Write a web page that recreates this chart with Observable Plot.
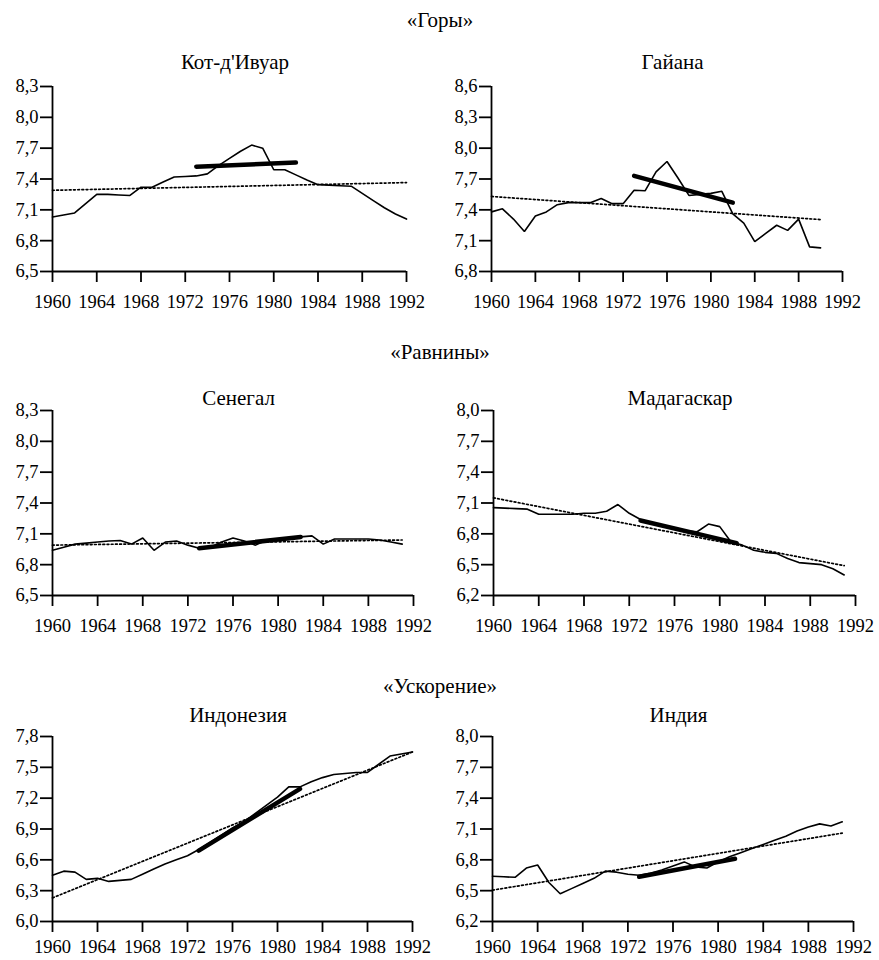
<!DOCTYPE html>
<html><head><meta charset="utf-8">
<script src="https://cdn.jsdelivr.net/npm/d3@7"></script>
<script src="https://cdn.jsdelivr.net/npm/@observablehq/plot@0.6"></script>
<style>
body{margin:0;background:#fff;font-family:"Liberation Serif","Times New Roman",serif;}
#root{position:relative;width:879px;height:960px;overflow:hidden;}
.lbl{position:absolute;font-size:21px;color:#000;white-space:nowrap;transform:translate(-50%,-50%);line-height:1;font-family:"Liberation Serif","Times New Roman",serif;}
.panel{position:absolute;}
.panel text{font-family:"Liberation Serif","Times New Roman",serif;}
</style></head><body><div id="root"></div>
<script>
// ---- data ----
const sections = ["«Горы»", "«Равнины»", "«Ускорение»"];
const countries = ["Кот-д'Ивуар", "Гайана", "Сенегал", "Мадагаскар", "Индонезия", "Индия"];
const xTicks = [1960, 1964, 1968, 1972, 1976, 1980, 1984, 1988, 1992];

const years = [1960,1961,1962,1963,1964,1965,1966,1967,1968,1969,1970,1971,1972,1973,1974,1975,1976,1977,1978,1979,1980,1981,1982,1983,1984,1985,1986,1987,1988,1989,1990,1991,1992];

const civValues = [7.03,7.05,7.07,7.16,7.25,7.25,7.245,7.24,7.32,7.32,7.37,7.42,7.425,7.43,7.45,7.53,7.60,7.67,7.73,7.70,7.49,7.49,7.44,7.39,7.345,7.34,7.335,7.33,7.26,7.19,7.12,7.06,7.01];
const guyValues = [7.38,7.41,7.31,7.19,7.34,7.38,7.45,7.47,7.47,7.47,7.51,7.46,7.46,7.59,7.585,7.77,7.87,7.71,7.54,7.55,7.56,7.58,7.36,7.27,7.09,7.17,7.25,7.20,7.31,7.04,7.03];
const senValues = [6.94,6.97,7.00,7.01,7.02,7.03,7.035,7.00,7.06,6.94,7.02,7.03,6.99,6.96,6.97,7.02,7.06,7.03,6.99,7.04,7.05,7.06,7.07,7.08,7.00,7.05,7.05,7.05,7.05,7.04,7.02,7.00];
const madValues = [7.055,7.05,7.045,7.04,6.99,6.99,6.99,6.99,7.00,7.00,7.02,7.085,7.00,6.94,6.91,6.88,6.86,6.83,6.82,6.895,6.87,6.72,6.69,6.64,6.62,6.61,6.56,6.52,6.51,6.50,6.46,6.40];
const indoValues = [6.45,6.49,6.48,6.41,6.42,6.39,6.40,6.41,6.46,6.51,6.56,6.60,6.64,6.70,6.77,6.84,6.91,6.97,7.05,7.13,7.21,7.31,7.31,7.36,7.40,7.43,7.44,7.45,7.45,7.53,7.61,7.63,7.65];
const indiaValues = [6.64,6.635,6.63,6.72,6.75,6.58,6.47,6.52,6.57,6.62,6.69,6.68,6.66,6.65,6.67,6.70,6.74,6.78,6.73,6.72,6.78,6.83,6.87,6.91,6.95,6.99,7.03,7.08,7.12,7.15,7.13,7.17];

// trend lines (dotted), whole period
const civTrend = [7.29, 7.365];   const civTrendYears = [1960, 1992];
const guyTrend = [7.53, 7.305];   const guyTrendYears = [1960, 1990];
const senTrend = [6.99, 7.04];    const senTrendYears = [1960, 1991];
const madTrend = [7.15, 6.49];    const madTrendYears = [1960, 1991];
const indoTrend = [6.23, 7.65];   const indoTrendYears = [1960, 1992];
const indiaTrend = [6.505, 7.06]; const indiaTrendYears = [1960, 1991];

// bold lines, 1973-1982 sub-period
const civBold = [7.52, 7.56];     const civBoldYears = [1973, 1982];
const guyBold = [7.73, 7.47];     const guyBoldYears = [1973, 1982];
const senBold = [6.96, 7.07];     const senBoldYears = [1973, 1982];
const madBold = [6.93, 6.71];     const madBoldYears = [1973, 1981.5];
const indoBold = [6.69, 7.29];    const indoBoldYears = [1973, 1982];
const indiaBold = [6.635, 6.81];  const indiaBoldYears = [1973, 1981.5];

const civTicks = [6.5,6.8,7.1,7.4,7.7,8.0,8.3];
const guyTicks = [6.8,7.1,7.4,7.7,8.0,8.3,8.6];
const senTicks = [6.5,6.8,7.1,7.4,7.7,8.0,8.3];
const madTicks = [6.2,6.5,6.8,7.1,7.4,7.7,8.0];
const indoTicks = [6.0,6.3,6.6,6.9,7.2,7.5,7.8];
const indiaTicks = [6.2,6.5,6.8,7.1,7.4,7.7,8.0];

// ---- layout ----
const FONT = "'Liberation Serif','Times New Roman',serif";
const root = document.getElementById("root");
function label(text, x, y) {
  const d = document.createElement("div");
  d.className = "lbl"; d.textContent = text;
  d.style.left = x + "px"; d.style.top = y + "px";
  root.appendChild(d);
}
label(sections[0], 440, 20);
label(sections[1], 440, 352);
label(sections[2], 440, 686);

const zip = (xs, ys) => xs.map((x, i) => ({x, y: ys[i]}));
const panels = [
  {title: countries[0], values: civValues, trendY: civTrendYears, trend: civTrend, boldY: civBoldYears, bold: civBold, ticks: civTicks, col: 0, l: 52, r: 406, t: 86, b: 271, ty: 62, pad: 12},
  {title: countries[1], values: guyValues, trendY: guyTrendYears, trend: guyTrend, boldY: guyBoldYears, bold: guyBold, ticks: guyTicks, col: 1, l: 491, r: 842, t: 86, b: 271, ty: 62, pad: 12},
  {title: countries[2], values: senValues, trendY: senTrendYears, trend: senTrend, boldY: senBoldYears, bold: senBold, ticks: senTicks, col: 0, l: 52, r: 413, t: 410, b: 595, ty: 398, pad: 12},
  {title: countries[3], values: madValues, trendY: madTrendYears, trend: madTrend, boldY: madBoldYears, bold: madBold, ticks: madTicks, col: 1, l: 493, r: 855, t: 410, b: 595, ty: 398, pad: 12},
  {title: countries[4], values: indoValues, trendY: indoTrendYears, trend: indoTrend, boldY: indoBoldYears, bold: indoBold, ticks: indoTicks, col: 0, l: 52, r: 412, t: 736, b: 921, ty: 715, pad: 7},
  {title: countries[5], values: indiaValues, trendY: indiaTrendYears, trend: indiaTrend, boldY: indiaBoldYears, bold: indiaBold, ticks: indiaTicks, col: 1, l: 492, r: 853, t: 736, b: 921, ty: 715, pad: 7}
];
const fmt = d => d.toFixed(1).replace(".", ",");

for (const p of panels) {
  const svgLeft = p.col * 440;
  const mt = 10, mb = 38, mr = 26;
  const ymin = p.ticks[0], ymax = p.ticks[p.ticks.length - 1];
  const series = zip(years.slice(0, p.values.length), p.values);
  const chart = Plot.plot({
    width: p.r - svgLeft + mr,
    height: mt + (p.b - p.t) + mb,
    marginLeft: p.l - svgLeft, marginRight: mr, marginTop: mt, marginBottom: mb,
    style: {fontFamily: FONT, fontSize: "18.5px", color: "#000", background: "transparent", overflow: "visible"},
    x: {domain: [1960, 1992]},
    y: {domain: [ymin, ymax]},
    marks: [
      Plot.axisX({ticks: xTicks, tickSize: 11, tickPadding: p.pad, tickFormat: d => String(d), label: null, strokeWidth: 1.8, fontSize: 18.5, fontFamily: FONT}),
      Plot.axisY({ticks: p.ticks, tickSize: 12, tickPadding: 2, tickFormat: fmt, label: null, strokeWidth: 1.8, fontSize: 18.5, fontFamily: FONT}),
      Plot.ruleX([1960], {y1: ymin, y2: ymax, strokeWidth: 1.8}),
      Plot.ruleY([ymin], {x1: 1960, x2: 1992, strokeWidth: 1.8}),
      Plot.line(zip(p.trendY, p.trend), {x: "x", y: "y", strokeWidth: 1.7, strokeDasharray: "1.8,2.4"}),
      Plot.line(series, {x: "x", y: "y", strokeWidth: 1.6, strokeLinejoin: "miter"}),
      Plot.line(zip(p.boldY, p.bold), {x: "x", y: "y", strokeWidth: 4.5})
    ]
  });
  chart.classList.add("panel");
  chart.style.left = svgLeft + "px";
  chart.style.top = (p.t - mt) + "px";
  root.appendChild(chart);
  label(p.title, (p.l + p.r) / 2 + 6, p.ty);
}
</script>
</body></html>
